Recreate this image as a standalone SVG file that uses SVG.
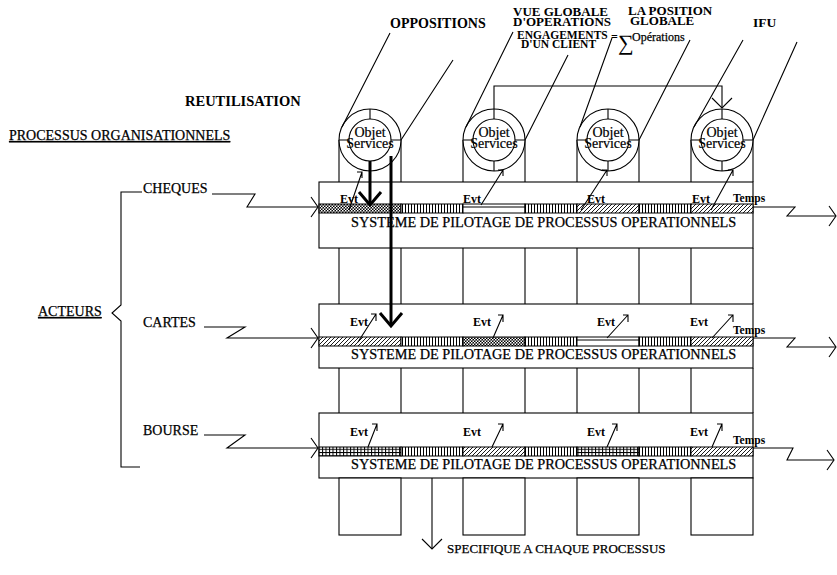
<svg xmlns="http://www.w3.org/2000/svg" width="837" height="575" viewBox="0 0 837 575">
<defs>
<style>
text { font-family: "Liberation Serif", "Times New Roman", serif; fill: #000; }
.b { font-weight: bold; }
.w { stroke: #000; stroke-width: 0.25; }
.ln { fill: none; stroke: #000; stroke-width: 1.1; }
.thick { fill: none; stroke: #000; stroke-width: 3; }
.box { fill: #fff; stroke: #000; stroke-width: 1.1; }
.ring { fill: #fff; stroke: #000; stroke-width: 1.1; }
.strip { stroke: #000; stroke-width: 1; }
.evt { font-size: 12px; font-weight: bold; }
.tmp { font-size: 11.5px; font-weight: bold; }
.sys { font-size: 14.3px; stroke: #000; stroke-width: 0.25; }
.obj { font-size: 14px; text-anchor: middle; stroke: #000; stroke-width: 0.2; }
.lbl { font-size: 14px; }
</style>
<pattern id="pV" width="3" height="20" patternUnits="userSpaceOnUse"><rect width="3" height="20" fill="#fff"/><rect x="0" y="0" width="1" height="20" fill="#000"/></pattern>
<pattern id="pD" width="4" height="4" patternUnits="userSpaceOnUse"><rect width="4" height="4" fill="#fff"/><path d="M-1,1 L1,-1 M0,4 L4,0 M3,5 L5,3" stroke="#000" stroke-width="0.9"/></pattern>
<pattern id="pC" width="3" height="3" patternUnits="userSpaceOnUse"><rect width="3" height="3" fill="#000"/><rect width="1.5" height="1.5" fill="#fff"/><rect x="1.5" y="1.5" width="1.5" height="1.5" fill="#fff"/></pattern>
<pattern id="pG" width="3.5" height="3.3" patternUnits="userSpaceOnUse"><rect width="3.5" height="3.3" fill="#fff"/><rect width="1" height="3.3" fill="#000"/><rect width="3.5" height="0.9" fill="#000"/></pattern>
<marker id="mZ" viewBox="-15 -15 20 30" markerWidth="20" markerHeight="30" refX="0" refY="0" markerUnits="userSpaceOnUse" orient="auto" overflow="visible"><path d="M-7,-10 L0,0 L-7,10" fill="none" stroke="#000" stroke-width="1.1"/></marker>
<marker id="mV" viewBox="-15 -15 20 30" markerWidth="20" markerHeight="30" refX="0" refY="0" markerUnits="userSpaceOnUse" orient="auto" overflow="visible"><path d="M-10,-10 L0,0 L-10,10" fill="none" stroke="#000" stroke-width="1.1"/></marker>
<marker id="mT" viewBox="-18 -18 22 36" markerWidth="22" markerHeight="36" refX="0" refY="0" markerUnits="userSpaceOnUse" orient="auto" overflow="visible"><path d="M-13,-11 L0,0 L-13,11" fill="none" stroke="#000" stroke-width="3"/></marker>
</defs>
<rect width="837" height="575" fill="#fff"/>

<g id="labels">
<text class="b" x="390" y="28" font-size="14">OPPOSITIONS</text>
<text class="b" x="513" y="16" font-size="13">VUE GLOBALE</text>
<text class="b" x="513" y="25.5" font-size="13">D'OPERATIONS</text>
<text class="b" x="628" y="15" font-size="13">LA POSITION</text>
<text class="b" x="630" y="24.5" font-size="13">GLOBALE</text>
<text class="b" x="753" y="27" font-size="13.5">IFU</text>
<text class="b" x="517" y="39" font-size="11.5">ENGAGEMENTS</text>
<text class="b" x="521" y="47.5" font-size="11.5">D'UN CLIENT</text>
<text class="b" x="611" y="41" font-size="12">=</text>
<text x="618" y="50" font-size="22">∑</text>
<text class="w" x="632" y="41" font-size="12">Opérations</text>
<text class="b" x="185" y="106" font-size="14.5">REUTILISATION</text>
<text class="lbl w" x="9" y="140" text-decoration="underline">PROCESSUS ORGANISATIONNELS</text>
<text class="lbl w" x="38" y="316" text-decoration="underline">ACTEURS</text>
<text class="lbl w" x="143" y="193">CHEQUES</text>
<text class="lbl w" x="143" y="327">CARTES</text>
<text class="lbl w" x="143" y="435">BOURSE</text>
<text class="w" x="447" y="553" font-size="13">SPECIFIQUE A CHAQUE PROCESSUS</text>
</g>

<g id="band1">
<rect class="box" x="319" y="182" width="434" height="66"/>
<rect class="strip" x="319" y="204" width="82" height="9" fill="url(#pC)"/>
<rect class="strip" x="401" y="204" width="62" height="9" fill="url(#pV)"/>
<rect class="strip" x="463" y="204" width="62" height="9" fill="#fff"/>
<line class="ln" x1="463" y1="207" x2="525" y2="207"/>
<rect class="strip" x="525" y="204" width="52" height="9" fill="url(#pV)"/>
<rect class="strip" x="577" y="204" width="62" height="9" fill="url(#pD)"/>
<rect class="strip" x="639" y="204" width="52" height="9" fill="url(#pV)"/>
<rect class="strip" x="691" y="204" width="62" height="9" fill="url(#pD)"/>
<text class="evt" x="340" y="203">Evt</text>
<text class="evt" x="463" y="203">Evt</text>
<text class="evt" x="587" y="203">Evt</text>
<text class="evt" x="692" y="203">Evt</text>
<text class="tmp" x="733" y="202">Temps</text>
<text class="sys" x="351" y="227">SYSTEME DE PILOTAGE DE PROCESSUS OPERATIONNELS</text>
</g>

<g id="band2">
<rect class="box" x="319" y="304" width="434" height="64"/>
<rect class="strip" x="319" y="337" width="82" height="9" fill="url(#pD)"/>
<rect class="strip" x="401" y="337" width="62" height="9" fill="url(#pV)"/>
<rect class="strip" x="463" y="337" width="62" height="9" fill="url(#pC)"/>
<rect class="strip" x="525" y="337" width="52" height="9" fill="url(#pV)"/>
<rect class="strip" x="577" y="337" width="62" height="9" fill="#fff"/>
<line class="ln" x1="577" y1="340" x2="639" y2="340"/>
<rect class="strip" x="639" y="337" width="52" height="9" fill="url(#pV)"/>
<rect class="strip" x="691" y="337" width="62" height="9" fill="url(#pD)"/>
<text class="evt" x="350" y="326">Evt</text>
<text class="evt" x="473" y="326">Evt</text>
<text class="evt" x="597" y="326">Evt</text>
<text class="evt" x="690" y="326">Evt</text>
<text class="tmp" x="733" y="334">Temps</text>
<text class="sys" x="351" y="359">SYSTEME DE PILOTAGE DE PROCESSUS OPERATIONNELS</text>
</g>

<g id="band3">
<rect class="box" x="319" y="413" width="434" height="65"/>
<rect class="strip" x="319" y="447" width="82" height="9" fill="url(#pG)"/>
<rect class="strip" x="401" y="447" width="62" height="9" fill="url(#pV)"/>
<rect class="strip" x="463" y="447" width="62" height="9" fill="url(#pD)"/>
<rect class="strip" x="525" y="447" width="52" height="9" fill="url(#pV)"/>
<rect class="strip" x="577" y="447" width="62" height="9" fill="url(#pG)"/>
<rect class="strip" x="639" y="447" width="52" height="9" fill="url(#pV)"/>
<rect class="strip" x="691" y="447" width="62" height="9" fill="url(#pD)"/>
<text class="evt" x="350" y="436">Evt</text>
<text class="evt" x="463" y="436">Evt</text>
<text class="evt" x="587" y="436">Evt</text>
<text class="evt" x="690" y="436">Evt</text>
<text class="tmp" x="733" y="444">Temps</text>
<text class="sys" x="351" y="469">SYSTEME DE PILOTAGE DE PROCESSUS OPERATIONNELS</text>
</g>

<g id="columns">
<path class="ln" d="M339,248V304 M401,248V304 M463,248V304 M525,248V304 M577,248V304 M639,248V304 M691,248V304 M753,248V304 M339,368V413 M401,368V413 M463,368V413 M525,368V413 M577,368V413 M639,368V413 M691,368V413 M753,368V413"/>
<rect class="box" x="339" y="478" width="62" height="57"/>
<rect class="box" x="463" y="478" width="62" height="57"/>
<rect class="box" x="577" y="478" width="62" height="57"/>
<rect class="box" x="691" y="478" width="62" height="57"/>
</g>

<g id="obj1" transform="translate(370,140)">
<path class="ln" d="M-31,0V42 M31,0V42"/>
<circle class="ring" r="31"/><circle class="ring" r="21"/>
<path class="ln" d="M0,-31V-21 M0,21V31 M-31,0H-21 M21,0H31"/>
<text class="obj" y="-3">Objet</text><text class="obj" y="8">Services</text>
</g>
<g id="obj2" transform="translate(494,140)">
<path class="ln" d="M-31,0V42 M31,0V42"/>
<circle class="ring" r="31"/><circle class="ring" r="21"/>
<path class="ln" d="M0,-31V-21 M0,21V31 M-31,0H-21 M21,0H31"/>
<text class="obj" y="-3">Objet</text><text class="obj" y="8">Services</text>
</g>
<g id="obj3" transform="translate(608,140)">
<path class="ln" d="M-31,0V42 M31,0V42"/>
<circle class="ring" r="31"/><circle class="ring" r="21"/>
<path class="ln" d="M0,-31V-21 M0,21V31 M-31,0H-21 M21,0H31"/>
<text class="obj" y="-3">Objet</text><text class="obj" y="8">Services</text>
</g>
<g id="obj4" transform="translate(722,140)">
<path class="ln" d="M-31,0V42 M31,0V42"/>
<circle class="ring" r="31"/><circle class="ring" r="21"/>
<path class="ln" d="M0,-31V-21 M0,21V31 M-31,0H-21 M21,0H31"/>
<text class="obj" y="-3">Objet</text><text class="obj" y="8">Services</text>
</g>

<g id="connectors">
<path class="ln" d="M342,127 L390,33 M401,140 L453,60 M466,127 L513,32 M525,140 L568,55 M580,127 L612,38 M639,140 L690,40 M694,127 L743,40 M753,140 L797,42"/>
<path class="ln" d="M494,109 V86 H722 V108" marker-end="url(#mV)"/>
<path class="thick" d="M370,161 V205" marker-end="url(#mT)"/>
<path class="thick" d="M391,156 V326" marker-end="url(#mT)"/>
<path class="ln" d="M349,210 L362,172 M357,172 H362 V178 M481,205 L503,170 M498,170 H503 V176 M581,210 L607,170 M602,170 H607 V176 M711,210 L733,170 M728,170 H733 V176"/>
<path class="ln" d="M358,342 L376,314 M371,314 H376 V321 M493,338 L503,315 M498,315 H503 V322 M607,338 L628,315 M623,315 H628 V322 M712,338 L733,315 M728,315 H733 V322"/>
<path class="ln" d="M368,447 L377,424 M372,424 H377 V431 M492,447 L503,424 M498,424 H503 V431 M607,447 L617,424 M612,424 H617 V431 M712,447 L722,424 M717,424 H722 V431"/>
<path class="ln" d="M212,194 H255 L247,207 H318" marker-end="url(#mZ)"/>
<path class="ln" d="M204,327 H245 L227,338 H318" marker-end="url(#mZ)"/>
<path class="ln" d="M204,435 H245 L227,448 H318" marker-end="url(#mZ)"/>
<path class="ln" d="M753,207 H795 L787,216 H836" marker-end="url(#mZ)"/>
<path class="ln" d="M753,338 H795 L787,347 H836" marker-end="url(#mZ)"/>
<path class="ln" d="M753,448 H793 L787,460 H834" marker-end="url(#mZ)"/>
<path class="ln" d="M142,192 H121 V305 L112,313 L121,321 V467 H140"/>
<path class="ln" d="M432,478 V549" marker-end="url(#mV)"/>
</g>
</svg>
